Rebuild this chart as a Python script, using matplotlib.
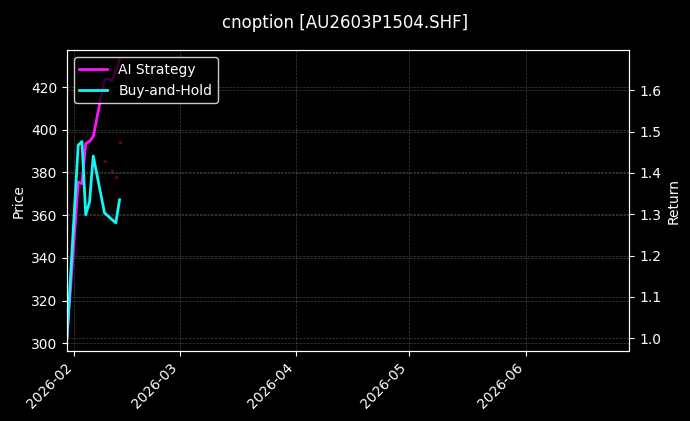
import matplotlib
matplotlib.use('Agg')
import matplotlib.pyplot as plt
import matplotlib.dates as mdates
import pandas as pd

# trading days shown in the chart
dates = pd.to_datetime(['2026-01-30', '2026-02-02', '2026-02-03', '2026-02-04',
                        '2026-02-05', '2026-02-06', '2026-02-09', '2026-02-10',
                        '2026-02-11', '2026-02-12', '2026-02-13'])

# cumulative returns (right axis)
ai_strategy = [1.000, 1.378, 1.374, 1.471, 1.476, 1.488, 1.626, 1.628, 1.622, 1.649, 1.674]
buy_and_hold = [1.000, 1.467, 1.476, 1.299, 1.329, 1.441, 1.303, 1.295, 1.287, 1.279, 1.335]

# faint price markers (left axis)
marker_dates = pd.to_datetime(['2026-02-09', '2026-02-11', '2026-02-12', '2026-02-13'])
marker_prices = [385.3, 380.7, 377.8, 394.2]

plt.style.use('dark_background')
fig, ax = plt.subplots(figsize=(6.9, 4.21), dpi=100)
fig.subplots_adjust(left=0.097, right=0.912, bottom=0.166, top=0.881)

ax.scatter(marker_dates, marker_prices, s=3, color='#a0103a', alpha=0.4, zorder=1)
ax.set_ylim(296.3, 437.3)
ax.set_ylabel('Price', fontsize=10)
ax.grid(True, linestyle='--', linewidth=0.5, color='gray', alpha=0.5)

ax2 = ax.twinx()
ax2.plot(dates, ai_strategy, color='#ff14ff', linewidth=2, label='AI Strategy')
ax2.plot(dates, buy_and_hold, color='#14f5f5', linewidth=2, label='Buy-and-Hold')
ax2.set_ylim(0.969, 1.697)
ax2.set_ylabel('Return', fontsize=10)
ax2.grid(True, linestyle='--', linewidth=0.5, color='gray', alpha=0.5)

ax.set_xlim(pd.Timestamp('2026-01-30'), pd.Timestamp('2026-06-28 14:00'))
ax.xaxis.set_major_locator(mdates.MonthLocator())
ax.xaxis.set_major_formatter(mdates.DateFormatter('%Y-%m'))
for lbl in ax.get_xticklabels():
    lbl.set_rotation(45)
    lbl.set_ha('right')

leg = ax2.legend(loc='upper left', fontsize=10, framealpha=0.8)
leg.get_frame().set_edgecolor('white')
leg.get_frame().set_facecolor('black')

fig.suptitle('cnoption [AU2603P1504.SHF]', fontsize=12, y=0.967)

plt.savefig('out.png', dpi=100, facecolor='black')
